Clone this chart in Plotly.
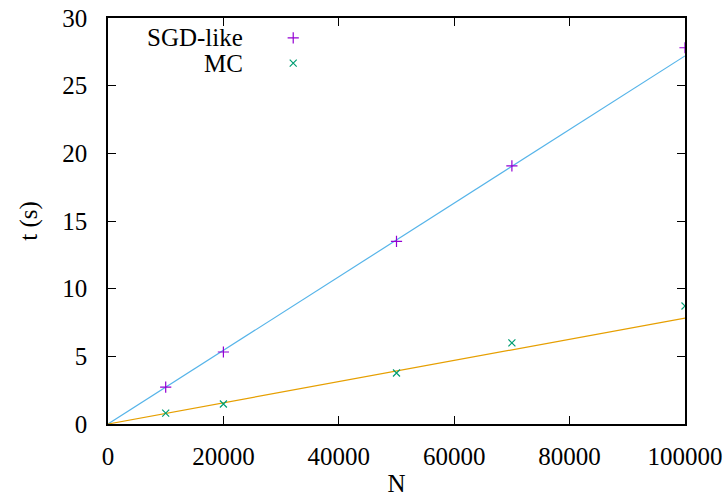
import plotly.graph_objects as go

N = [10000, 20000, 50000, 70000, 100000]
sgd_t = [2.73, 5.32, 13.5, 19.07, 27.8]
mc_t = [0.8, 1.48, 3.77, 5.99, 8.72]

fit_x = [0, 100000]
sgd_slope = 2.72e-4
mc_slope = 7.83e-5

x_ticks = [0, 20000, 40000, 60000, 80000, 100000]
y_ticks = [0, 5, 10, 15, 20, 25, 30]

font = "Times New Roman"
FS = 25
fig = go.Figure()

fig.add_trace(go.Scatter(x=fit_x, y=[sgd_slope * v for v in fit_x], mode="lines",
                         line=dict(color="#56b4e9", width=1.2), showlegend=False))
fig.add_trace(go.Scatter(x=fit_x, y=[mc_slope * v for v in fit_x], mode="lines",
                         line=dict(color="#e69f00", width=1.2), showlegend=False))
fig.add_trace(go.Scatter(x=N, y=sgd_t, mode="markers",
                         marker=dict(symbol="cross-thin", size=8, line=dict(color="#9400d3", width=1.2)),
                         showlegend=False))
fig.add_trace(go.Scatter(x=N, y=mc_t, mode="markers",
                         marker=dict(symbol="x-thin", size=7, line=dict(color="#009e73", width=1.2)),
                         showlegend=False))

# legend sample markers on an overlay axis spanning the plot area
fig.add_trace(go.Scatter(x=[0.321], y=[0.951], xaxis="x2", yaxis="y2", mode="markers",
                         marker=dict(symbol="cross-thin", size=8, line=dict(color="#9400d3", width=1.2)),
                         showlegend=False, hoverinfo="skip"))
fig.add_trace(go.Scatter(x=[0.321], y=[0.889], xaxis="x2", yaxis="y2", mode="markers",
                         marker=dict(symbol="x-thin", size=7, line=dict(color="#009e73", width=1.2)),
                         showlegend=False, hoverinfo="skip"))

fig.add_annotation(x=0.238, y=0.951, xref="paper", yref="paper", text="SGD-like",
                   showarrow=False, xanchor="right", yanchor="middle",
                   font=dict(family=font, size=FS, color="black"))
fig.add_annotation(x=0.238, y=0.889, xref="paper", yref="paper", text="MC",
                   showarrow=False, xanchor="right", yanchor="middle",
                   font=dict(family=font, size=FS, color="black"))

axis_common = dict(showline=True, linecolor="black", linewidth=1.5, mirror="ticks",
                   ticks="inside", ticklen=8, tickcolor="black", tickwidth=1,
                   showgrid=False, zeroline=False, automargin=False,
                   tickfont=dict(family=font, size=FS, color="black"))

fig.update_layout(
    width=727, height=497,
    margin=dict(l=108, r=42, t=18, b=73),
    paper_bgcolor="white", plot_bgcolor="white",
    font=dict(family=font, size=FS, color="black"),
    xaxis=dict(range=[0, 100000], tickvals=x_ticks, ticktext=[str(v) for v in x_ticks],
               ticklabelstandoff=9,
               title=dict(text="N", font=dict(family=font, size=FS, color="black"), standoff=22),
               **axis_common),
    yaxis=dict(range=[0, 30], tickvals=y_ticks, ticklabelstandoff=14,
               title=dict(text="t (s)", font=dict(family=font, size=FS, color="black"), standoff=18),
               **axis_common),
    xaxis2=dict(overlaying="x", range=[0, 1], visible=False),
    yaxis2=dict(overlaying="y", range=[0, 1], visible=False),
)

fig.write_html("out.html", config={"displayModeBar": False},
               post_script="document.body.style.margin='0px';")
